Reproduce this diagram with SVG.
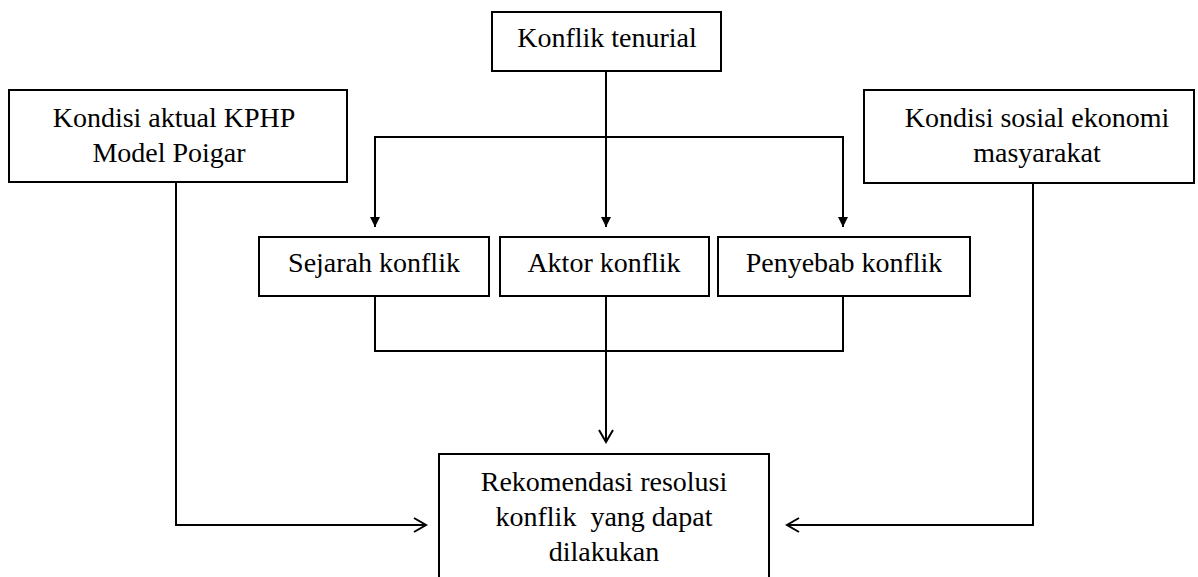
<svg xmlns="http://www.w3.org/2000/svg" width="1198" height="577" viewBox="0 0 1198 577">
<style>
.box{fill:#fff;stroke:#000;stroke-width:2}
.t{font-family:"Liberation Serif","Times New Roman",serif;font-size:28px;fill:#000;text-anchor:middle}
.ln{fill:none;stroke:#000;stroke-width:2}
</style>
<defs>
<marker id="fill" markerWidth="12" markerHeight="12" refX="10" refY="5" orient="auto" markerUnits="userSpaceOnUse">
<path d="M0,0 L10,5 L0,10 Z" fill="#000"/>
</marker>
<marker id="open" markerWidth="16" markerHeight="16" refX="13" refY="8" orient="auto" markerUnits="userSpaceOnUse">
<path d="M1,1 L13,8 L1,15" fill="none" stroke="#000" stroke-width="2"/>
</marker>
</defs>
<rect width="1198" height="577" fill="#fff"/>
<g id="connectors">
<path class="ln" d="M606,71 V227" marker-end="url(#fill)"/>
<path class="ln" d="M375,137 H843"/>
<path class="ln" d="M375,136 V227" marker-end="url(#fill)"/>
<path class="ln" d="M843,136 V227" marker-end="url(#fill)"/>
<path class="ln" d="M375,296 V351 H843 V296"/>
<path class="ln" d="M606,296 V351"/>
<path class="ln" d="M606,351 V442" marker-end="url(#open)"/>
<path class="ln" d="M176,182 V525 H426" marker-end="url(#open)"/>
<path class="ln" d="M1033,183 V525 H787" marker-end="url(#open)"/>
</g>
<g id="konflik-tenurial">
<rect class="box" x="492" y="12" width="229" height="59"/>
<text class="t" x="607" y="47">Konflik tenurial</text>
</g>
<g id="kondisi-aktual">
<rect class="box" x="9" y="90" width="338" height="92"/>
<text class="t" x="174" y="127">Kondisi aktual KPHP</text>
<text class="t" x="169" y="162">Model Poigar</text>
</g>
<g id="kondisi-sosial">
<rect class="box" x="864" y="90" width="330" height="93"/>
<text class="t" x="1037" y="127">Kondisi sosial ekonomi</text>
<text class="t" x="1037" y="162">masyarakat</text>
</g>
<g id="sejarah">
<rect class="box" x="259" y="237" width="230" height="59"/>
<text class="t" x="374" y="272">Sejarah konflik</text>
</g>
<g id="aktor">
<rect class="box" x="500" y="237" width="209" height="59"/>
<text class="t" x="604" y="272">Aktor konflik</text>
</g>
<g id="penyebab">
<rect class="box" x="718" y="237" width="252" height="59"/>
<text class="t" x="844" y="272">Penyebab konflik</text>
</g>
<g id="rekomendasi">
<rect class="box" x="439" y="454" width="330" height="140"/>
<text class="t" x="604" y="491">Rekomendasi resolusi</text>
<text class="t" x="604" y="526" xml:space="preserve">konflik  yang dapat</text>
<text class="t" x="604" y="561">dilakukan</text>
</g>
</svg>
